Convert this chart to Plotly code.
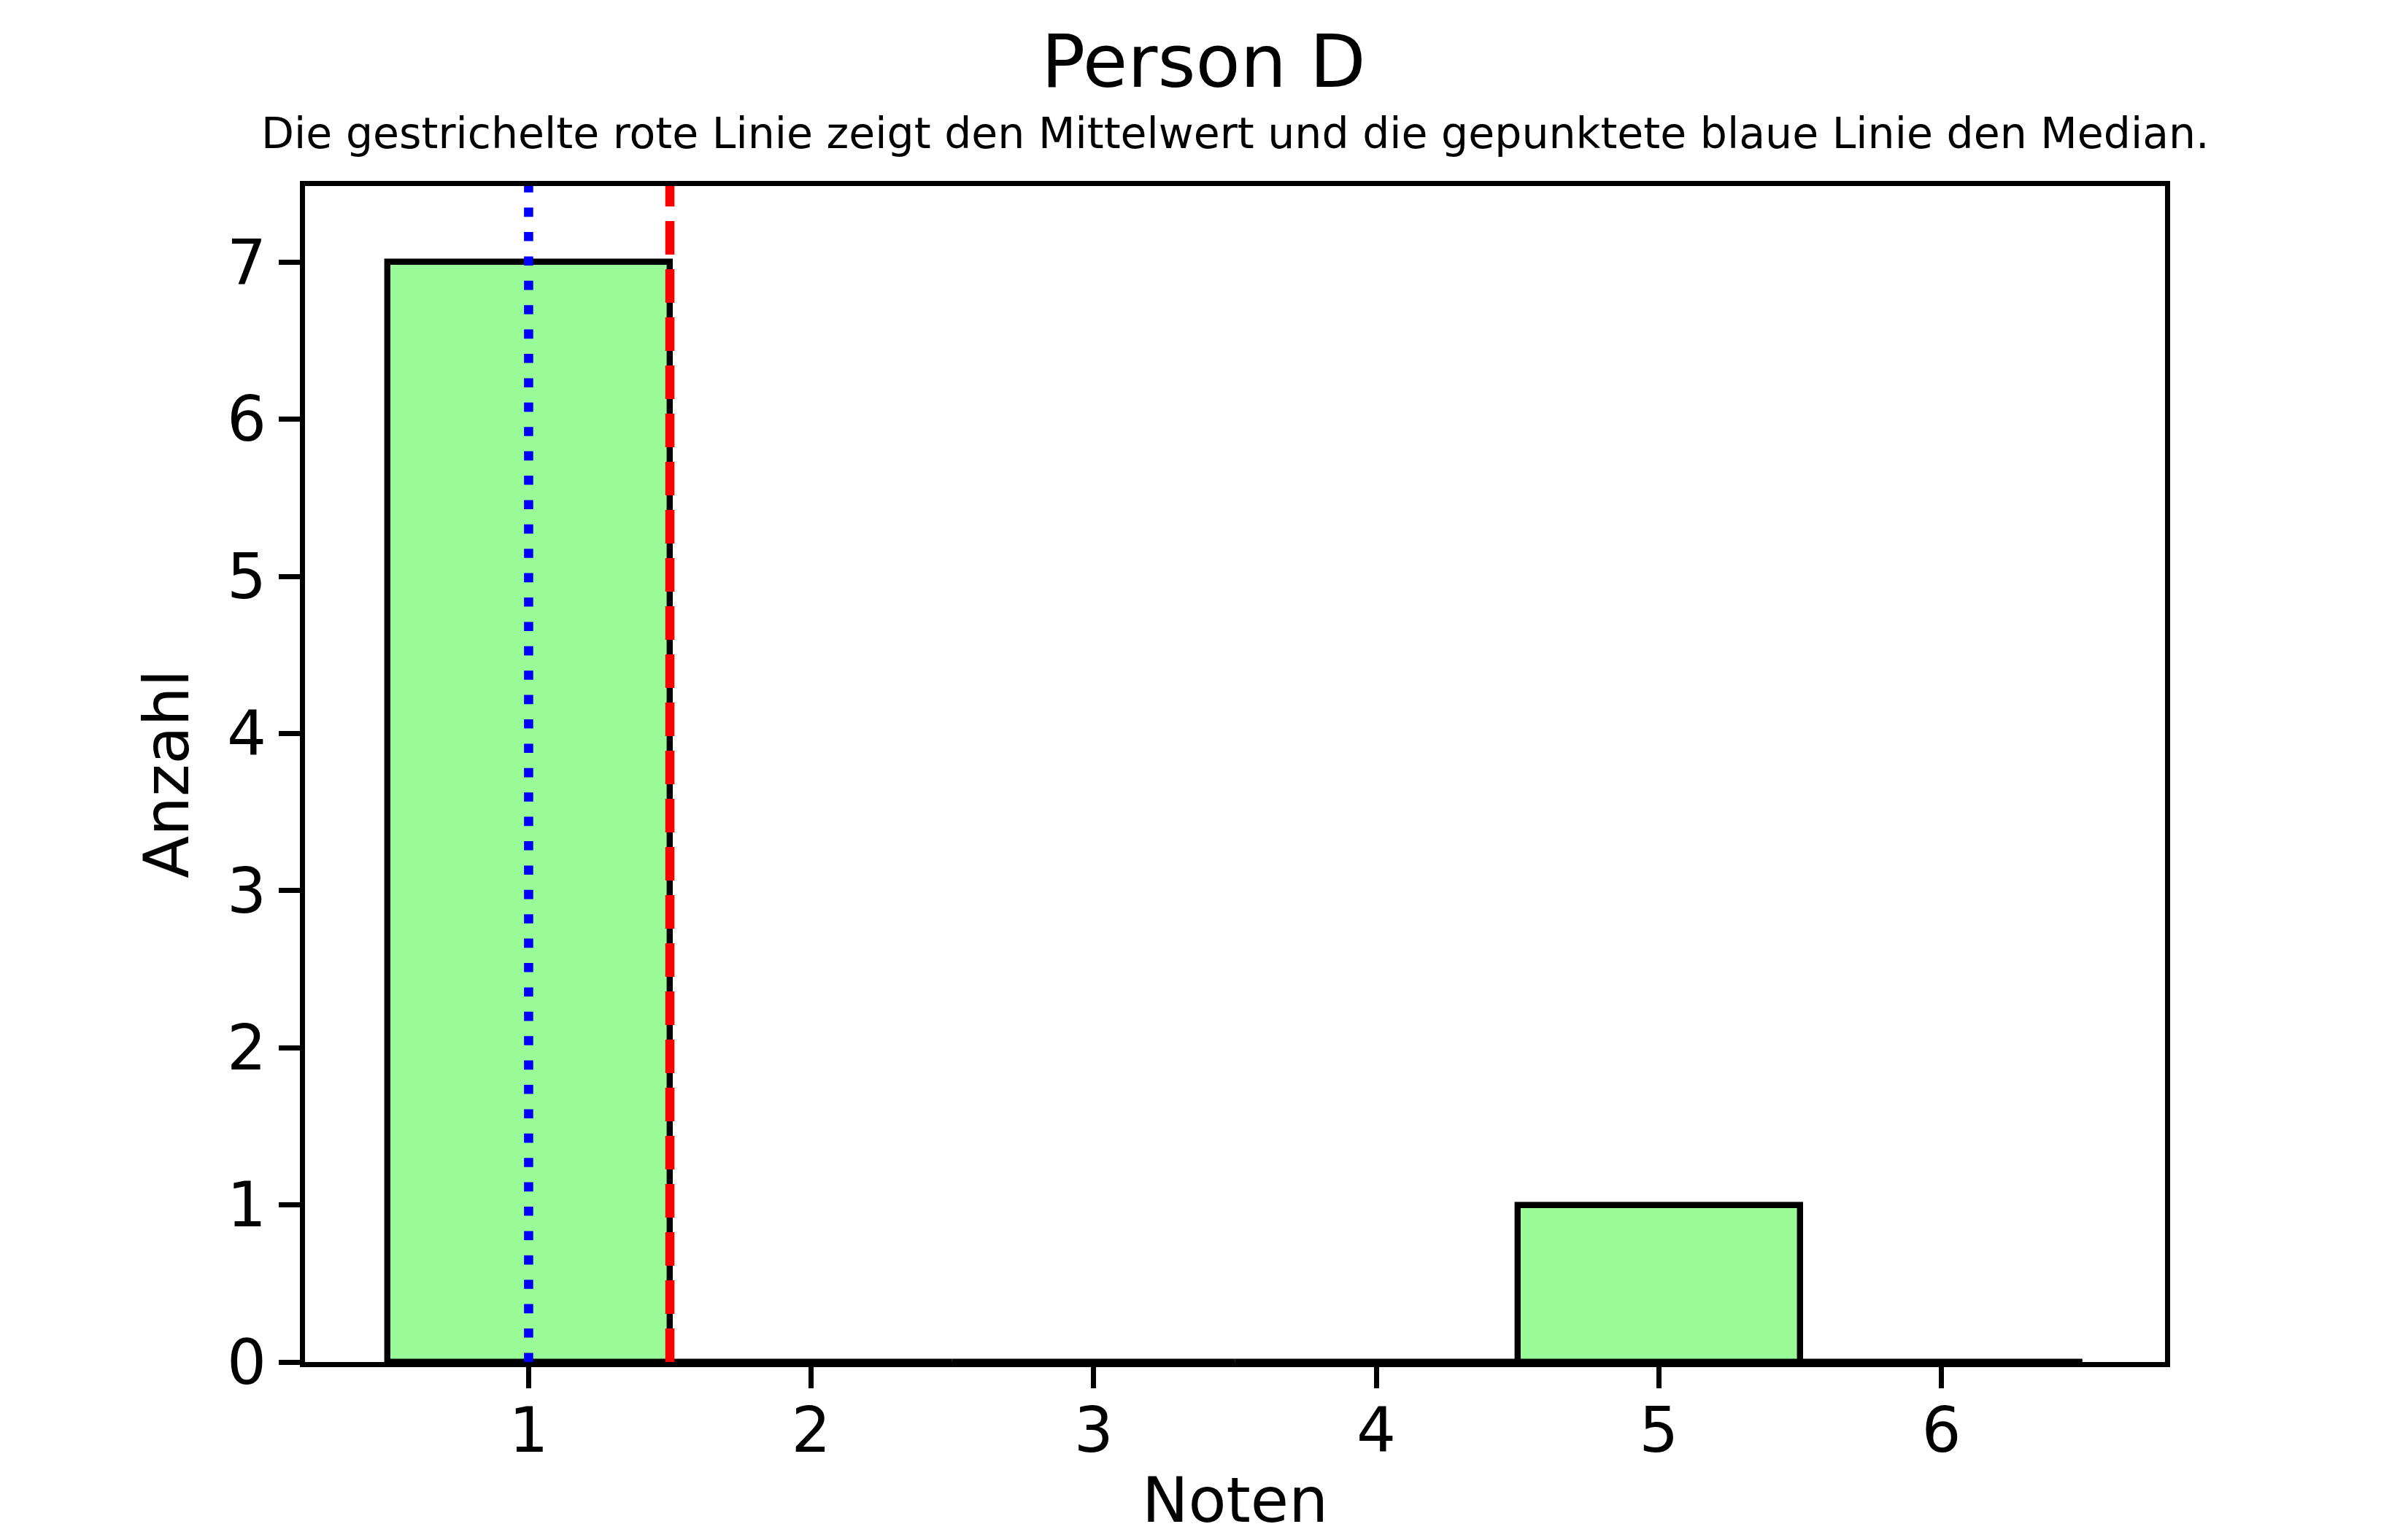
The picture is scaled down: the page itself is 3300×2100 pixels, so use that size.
"""Histogram of grades for one person, with mean and median markers."""

import numpy as np
import plotly.graph_objects as go

# grades on the x axis and how often each occurred
noten = [1, 2, 3, 4, 5, 6]
anzahl = [7, 0, 0, 0, 1, 0]

titel = 'Person D'
untertitel = 'Die gestrichelte rote Linie zeigt den Mittelwert und die gepunktete blaue Linie den Median.'

# mean and median from the counted grades
alle_noten = np.repeat(noten, anzahl)
mittelwert = float(np.mean(alle_noten))
median = float(np.median(alle_noten))

FONT = 'DejaVu Sans'
PT = 8.4  # pixels per matplotlib point in the reference
BODY = 8  # default page margin around the plot div
SPINE = 6.7
HALF = SPINE / 2  # plotly draws axis lines outside the plot area

# plot area in screen pixels (for placing the titles)
L, R, T, B = 415, 2970, 252, 1867
XR = [0.2, 6.8]
YR = [0, 7.5]
x_unit = (R - L) / (XR[1] - XR[0])
y_unit = (B - T) / (YR[1] - YR[0])


def px_y(y):
    return (B - y) / (B - T - HALF)


def px_x(x):
    return (x - L - HALF) / (R - L - 2 * HALF)


fig = go.Figure()

fig.add_trace(go.Bar(
    x=noten,
    y=anzahl,
    width=1,
    marker=dict(color='#98FB98', line=dict(color='black', width=1.0 * PT)),
    showlegend=False
))

# mean: red dashed, median: blue dotted (axvline style, full axes height)
fig.add_vline(x=mittelwert, line=dict(color='red', width=1.5 * PT, dash='46px,20px'), layer='above')
fig.add_vline(x=median, line=dict(color='blue', width=1.5 * PT, dash='12.6px,20.8px'), layer='above')

fig.update_xaxes(
    range=[XR[0] + HALF / x_unit, XR[1] - HALF / x_unit],
    tickvals=noten,
    ticks='outside', ticklen=29, tickwidth=SPINE, tickcolor='black',
    ticklabelstandoff=-15,
    showline=True, linewidth=SPINE, linecolor='black', mirror=True,
    showgrid=False, zeroline=False,
    tickfont=dict(family=FONT, size=85, color='black'),
    title=dict(text='Noten', font=dict(family=FONT, size=85, color='black'), standoff=20),
    automargin=False
)

fig.update_yaxes(
    range=[YR[0], YR[1] - HALF / y_unit],
    tickvals=list(range(0, 8)),
    ticks='outside', ticklen=29, tickwidth=SPINE, tickcolor='black',
    showline=True, linewidth=SPINE, linecolor='black', mirror=True,
    showgrid=False, zeroline=False,
    tickfont=dict(family=FONT, size=85, color='black'),
    title=dict(text='Anzahl', font=dict(family=FONT, size=85, color='black'), standoff=27),
    automargin=False
)

fig.update_layout(
    width=3300,
    height=2100,
    margin=dict(l=L + HALF - BODY, r=3300 - R + HALF + BODY,
                t=T + HALF - BODY, b=2100 - B + BODY),
    plot_bgcolor='white',
    paper_bgcolor='white',
    bargap=0,
    annotations=[
        dict(text=titel, xref='paper', yref='paper', x=px_x(1650), y=px_y(85),
             xanchor='center', yanchor='middle', showarrow=False,
             font=dict(family=FONT, size=100, color='black')),
        dict(text=untertitel, xref='paper', yref='paper', x=px_x(1692.5), y=px_y(183),
             xanchor='center', yanchor='middle', showarrow=False,
             font=dict(family=FONT, size=58.5, color='black')),
    ]
)

fig.write_html("out.html")
